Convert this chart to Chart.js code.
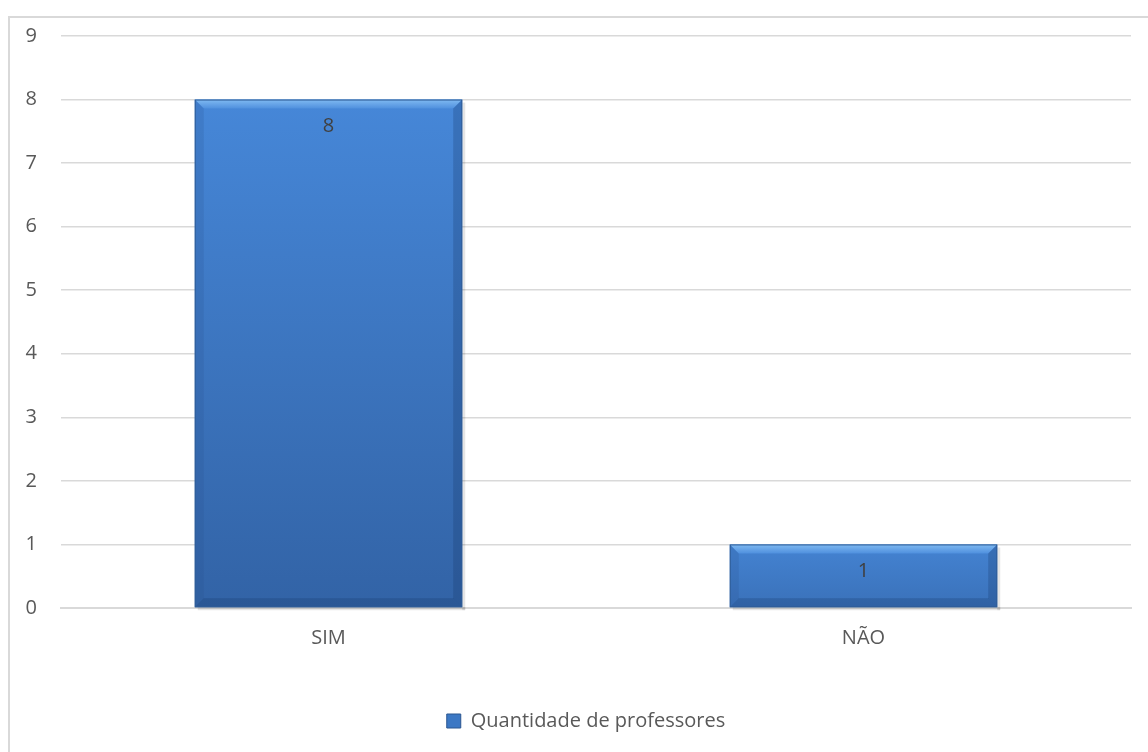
<!DOCTYPE html>
<html>
<head>
<meta charset="utf-8">
<script src="https://cdn.jsdelivr.net/npm/chart.js@4"></script>
<style>
  html, body { margin: 0; padding: 0; background: #fff; overflow: hidden; }
  #wrap { position: absolute; left: 0; top: 0; width: 1148px; height: 752px; }
  #frame { position: absolute; left: 8px; top: 16px; width: 1160px; height: 760px;
           border: 2px solid #d9d9d9; box-sizing: border-box; pointer-events: none; }
</style>
</head>
<body>
<div id="wrap"><canvas id="myChart" width="1148" height="752"></canvas></div>
<div id="frame"></div>
<script>
var categorias = ['SIM', 'NÃO'];
var quantidades = [8, 1];
var serieNome = 'Quantidade de professores';
var yMax = 9;

var fonte = '"Open Sans", sans-serif';
var cinza = '#595959';

// gradiente vertical de cada barra (do topo até a base)
function corBarra(context) {
  var chart = context.chart;
  var area = chart.chartArea;
  if (!area || context.parsed === undefined) return '#3f7bc9';
  var y = chart.scales.y;
  var top = y.getPixelForValue(context.parsed.y);
  var base = y.getPixelForValue(0);
  var g = chart.ctx.createLinearGradient(0, top, 0, base);
  if (base - top > 200) {
    g.addColorStop(0, '#4687d8');
    g.addColorStop(1, '#3263a6');
  } else {
    g.addColorStop(0, '#4483d2');
    g.addColorStop(1, '#3a71b9');
  }
  return g;
}

// efeito de chanfro nas barras
var chanfro = {
  id: 'chanfro',
  afterDatasetsDraw: function (chart) {
    var ctx = chart.ctx;
    var meta = chart.getDatasetMeta(0);
    meta.data.forEach(function (bar) {
      var l = bar.x - bar.width / 2, r = bar.x + bar.width / 2;
      var t = bar.y, b = bar.base, s = 9;
      ctx.save();
      // sombra leve à direita e embaixo
      ctx.fillStyle = 'rgba(0,0,0,0.10)';
      ctx.fillRect(r, t + 3, 3, b - t);
      ctx.fillRect(l + 3, b, r - l, 3);
      // topo claro
      var gt = ctx.createLinearGradient(0, t, 0, t + s);
      gt.addColorStop(0, '#80baf2');
      gt.addColorStop(1, '#4f90de');
      ctx.fillStyle = gt;
      ctx.beginPath();
      ctx.moveTo(l, t); ctx.lineTo(r, t); ctx.lineTo(r - s, t + s); ctx.lineTo(l + s, t + s);
      ctx.closePath(); ctx.fill();
      // lado esquerdo
      ctx.fillStyle = 'rgba(40,80,140,0.18)';
      ctx.beginPath();
      ctx.moveTo(l, t); ctx.lineTo(l + s, t + s); ctx.lineTo(l + s, b - s); ctx.lineTo(l, b);
      ctx.closePath(); ctx.fill();
      // lado direito
      ctx.fillStyle = 'rgba(20,50,100,0.25)';
      ctx.beginPath();
      ctx.moveTo(r, t); ctx.lineTo(r - s, t + s); ctx.lineTo(r - s, b - s); ctx.lineTo(r, b);
      ctx.closePath(); ctx.fill();
      // base escura
      ctx.fillStyle = 'rgba(20,50,100,0.25)';
      ctx.beginPath();
      ctx.moveTo(l, b); ctx.lineTo(r, b); ctx.lineTo(r - s, b - s); ctx.lineTo(l + s, b - s);
      ctx.closePath(); ctx.fill();
      // contorno fino
      ctx.strokeStyle = '#2f5d98';
      ctx.lineWidth = 1;
      ctx.strokeRect(l + 0.5, t + 0.5, r - l - 1, b - t - 1);
      ctx.restore();
    });
  }
};

// rótulo de valor dentro da barra, perto do topo
var rotulos = {
  id: 'rotulos',
  afterDatasetsDraw: function (chart) {
    var ctx = chart.ctx;
    var meta = chart.getDatasetMeta(0);
    ctx.save();
    ctx.fillStyle = '#404040';
    ctx.font = '20px ' + fonte;
    ctx.textAlign = 'center';
    ctx.textBaseline = 'middle';
    meta.data.forEach(function (bar, i) {
      ctx.fillText(String(quantidades[i]), bar.x, bar.y + 27);
    });
    ctx.restore();
  }
};

// centraliza a legenda sob a área do gráfico
var legendaCentro = {
  id: 'legendaCentro',
  afterLayout: function (chart) {
    var lg = chart.legend;
    if (!lg) return;
    var dx = (chart.chartArea.left + chart.chartArea.right) / 2 - (lg.left + lg.right) / 2 - 10;
    lg.left += dx;
    lg.right += dx;
  }
};

var ctx = document.getElementById('myChart');
new Chart(ctx, {
  type: 'bar',
  data: {
    labels: categorias,
    datasets: [{
      label: serieNome,
      data: quantidades,
      backgroundColor: corBarra,
      borderWidth: 0,
      barPercentage: 0.5,
      categoryPercentage: 1.0
    }]
  },
  options: {
    responsive: false,
    animation: false,
    layout: { padding: { left: 10, right: 17, top: 23, bottom: 11 } },
    scales: {
      x: {
        grid: { display: false, drawTicks: false },
        border: { color: '#d9d9d9', width: 2 },
        ticks: { color: cinza, font: { family: fonte, size: 20 }, padding: 18 },
        afterFit: function (s) { s.height = 93; }
      },
      y: {
        min: 0,
        max: yMax,
        grid: { color: '#d9d9d9', lineWidth: 1.5, drawTicks: false },
        border: { display: false },
        ticks: { stepSize: 1, color: cinza, font: { family: fonte, size: 20 }, padding: 24 },
        afterFit: function (s) { s.width = 51; }
      }
    },
    plugins: {
      legend: {
        position: 'bottom',
        labels: {
          color: cinza,
          font: { family: fonte, size: 20 },
          boxWidth: 14,
          boxHeight: 14,
          padding: 10,
          generateLabels: function (chart) {
            return [{
              text: serieNome,
              fillStyle: '#3c78c4',
              strokeStyle: '#2b5690',
              fontColor: cinza,
              lineWidth: 1,
              datasetIndex: 0
            }];
          }
        }
      },
      tooltip: { enabled: false }
    }
  },
  plugins: [chanfro, rotulos, legendaCentro]
});
</script>
</body>
</html>
